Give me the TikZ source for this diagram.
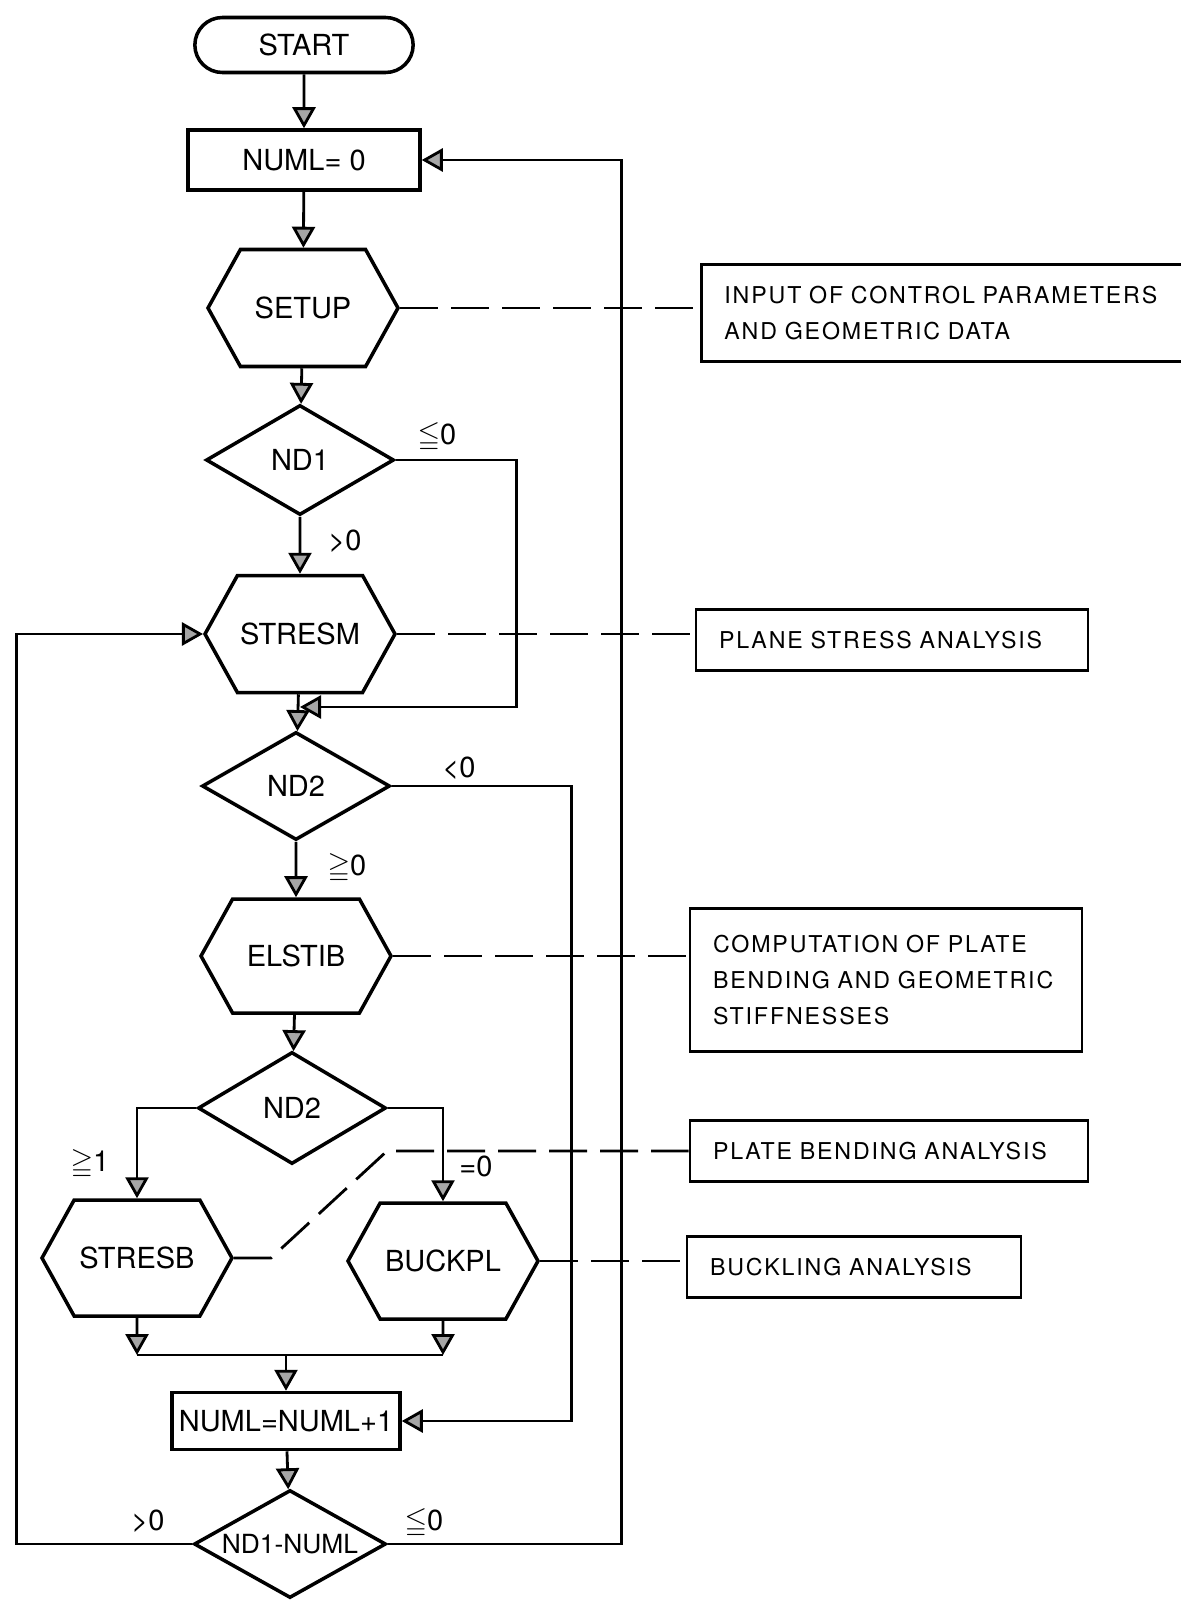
\documentclass[tikz,border=0pt]{standalone}
\usepackage{amsmath,amssymb}
\usepackage{fontspec}
\setmainfont{TeX Gyre Heros}
\newfontfamily\notefont[LetterSpace=8]{TeX Gyre Heros}
\usetikzlibrary{arrows.meta,shapes.geometric,shapes.symbols,shapes.misc}

\begin{document}
\begin{tikzpicture}[x=0.2mm,y=-0.2mm,
  every node/.style={font=\fontsize{16.5}{19}\selectfont},
  box/.style={draw,line width=2pt,minimum width=#1,minimum height=12mm,inner sep=0},
  hexa/.style={draw,line width=2pt,shape=signal,signal to=west and east,signal pointer angle=122,
    minimum width=38mm,minimum height=23.4mm,inner sep=0},
  decide/.style={draw,line width=2pt,diamond,aspect=1.7,minimum width=37.6mm,minimum height=22mm,inner sep=0},
  note/.style={draw,line width=1.6pt,align=left,inner xsep=4.6mm,inner ysep=0,
    font=\notefont\fontsize{13.2}{20.5}\selectfont},
  arr/.style={line width=1.6pt,-{Triangle[length=4.2mm,width=4.6mm,fill=gray!70]}},
  link/.style={line width=1.6pt},
  dashln/.style={line width=1.6pt,dash pattern=on 7.6mm off 2.6mm}]
\useasboundingbox (0,0) rectangle (1181,1601);
% main column
\node[draw,line width=2pt,rounded rectangle,minimum width=46mm,minimum height=11mm] (start) at (304,45) {START};
\node[box=46.4mm] (numl0) at (304,160) {NUML= 0};
\node[hexa] (setup) at (303,308) {SETUP};
\node[decide] (nd1) at (300,460) {ND1};
\node[hexa] (stresm) at (300,634) {STRESM};
\node[decide,minimum height=21.6mm] (nd2a) at (296,786) {ND2};
\node[hexa,minimum height=22.8mm] (elstib) at (296,956) {ELSTIB};
\node[decide,minimum height=22.4mm] (nd2b) at (292,1108) {ND2};
\node[hexa,minimum height=23.2mm] (stresb) at (137,1258) {STRESB};
\node[hexa,minimum height=23.2mm] (buckpl) at (443,1261) {BUCKPL};
\node[box=45.6mm,minimum height=11.4mm] (numl1) at (286,1421) {NUML=NUML+1};
\node[decide,minimum width=38.4mm,minimum height=21.6mm,font=\fontsize{15}{17}\selectfont] (nd3) at (290,1544) {ND1-NUML};
% branch labels
\node (le1) at (437,437) {$\leqq$0};
\node (gt1) at (345,541) {>0};
\node (lt2) at (459,768) {<0};
\node (ge2) at (347,868) {$\geqq$0};
\node (ge3) at (90,1164) {$\geqq$1};
\node (eq3) at (476,1166) {=0};
\node (gt4) at (148,1521) {>0};
\node (le4) at (424,1523) {$\leqq$0};
% notes
\node[note,text width=96mm,minimum height=19.4mm,anchor=west] (inp) at (700,313) {INPUT OF CONTROL PARAMETERS\\AND GEOMETRIC DATA};
\node[note,text width=69.2mm,minimum height=12.2mm] (pss) at (892,640) {PLANE STRESS ANALYSIS};
\node[note,text width=69.2mm,minimum height=28.6mm] (comp) at (886,980) {COMPUTATION OF PLATE\\BENDING AND GEOMETRIC\\STIFFNESSES};
\node[note,text width=70.4mm,minimum height=12.2mm] (pba) at (889,1151) {PLATE BENDING ANALYSIS};
\node[note,text width=57.6mm,minimum height=12.2mm] (buck) at (854,1267) {BUCKLING ANALYSIS};
% flow
\coordinate (j1) at (300,707);
\coordinate (mL) at (137,1355);
\coordinate (mR) at (443,1355);
\draw[arr] (start) -- (numl0);
\draw[arr] (numl0) -- (setup);
\draw[arr] (setup) -- (nd1);
\draw[arr] (nd1) -- (stresm);
\draw[arr] (stresm) -- (nd2a);
\draw[arr] (nd1.east) -- ++(121,0) |- (j1);
\draw[arr] (nd2a) -- (elstib);
\draw[arr] (elstib) -- (nd2b);
\draw[arr] (nd2b.west) -| (stresb.north);
\draw[arr] (nd2b.east) -| (buckpl.north);
\draw[arr] (stresb) -- (stresb |- mL);
\draw[arr] (buckpl) -- (buckpl |- mR);
\draw[link] (mL) -- (mR);
\draw[arr] (numl1 |- mL) -- (numl1);
\draw[arr] (numl1) -- (nd3);
\draw[arr] (nd2a.east) -- ++(180,0) |- (numl1.east);
\draw[arr] (nd3.west) -- ++(-176,0) |- (stresm.west);
\draw[arr] (nd3.east) -- ++(234,0) |- (numl0.east);
% dashed leaders
\coordinate (kink) at (271,1258);
\coordinate (bend) at (387,1151);
\draw[dashln] (setup.east) -- (setup.east -| inp.west);
\draw[dashln] (stresm.east) -- (stresm.east -| pss.west);
\draw[dashln] (elstib.east) -- (elstib.east -| comp.west);
\draw[dashln] (stresb.east) -- (kink) -- (bend) -- (pba.west);
\draw[dashln] (buckpl.east) -- (buckpl.east -| buck.west);
\end{tikzpicture}
\end{document}
